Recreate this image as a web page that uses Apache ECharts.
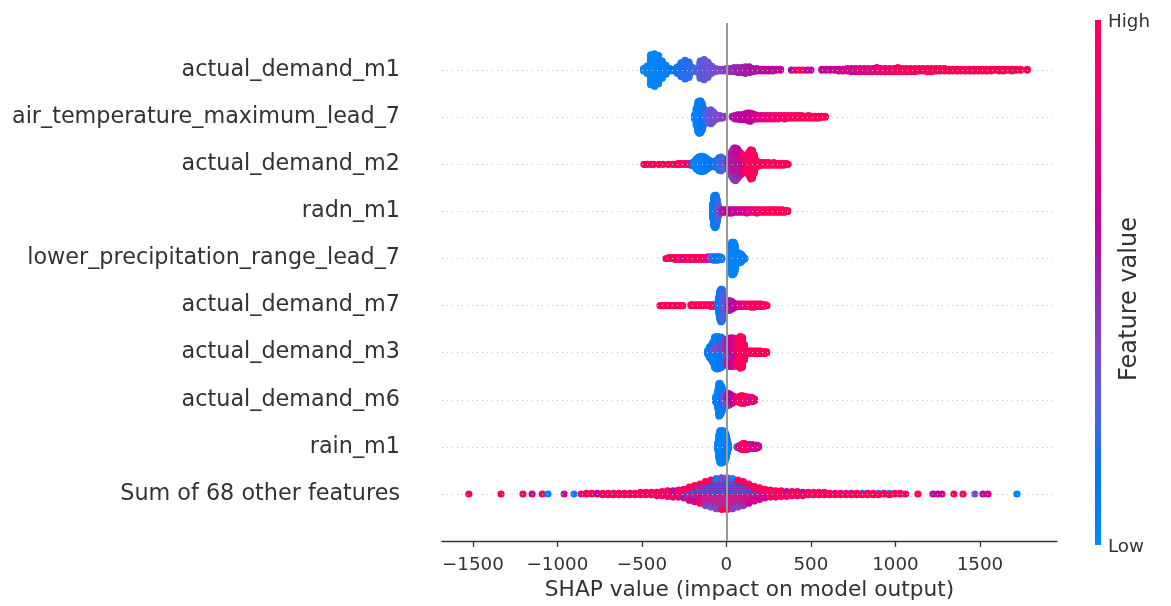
<!DOCTYPE html>
<html><head><meta charset="utf-8">
<script src="https://cdn.jsdelivr.net/npm/echarts@6/dist/echarts.min.js"></script>
<style>html,body{margin:0;padding:0;background:#fff;}#c{width:1171px;height:606px;}</style>
</head><body><div id="c"></div>
<script>
// Feature names, top to bottom
const featureNames = [
  "actual_demand_m1",
  "air_temperature_maximum_lead_7",
  "actual_demand_m2",
  "radn_m1",
  "lower_precipitation_range_lead_7",
  "actual_demand_m7",
  "actual_demand_m3",
  "actual_demand_m6",
  "rain_m1",
  "Sum of 68 other features"
];
const xTicks = [-1500, -1000, -500, 0, 500, 1000, 1500];
const xTitle = "SHAP value (impact on model output)";
const colorbarTitle = "Feature value";
const colorbarHigh = "High";
const colorbarLow = "Low";

// Each entry: [SHAP value, number of samples at that value, normalized feature value (0 low .. 1 high)]
const actual_demand_m1 = [
  [-490,4,0.02],[-470,10,0.03],[-448,38,0.03],[-425,41,0.04],[-402,36,0.05],[-380,22,0.06],[-358,12,0.07],
  [-335,4,0.1],[-312,3,0.12],[-290,9,0.15],[-268,18,0.17],[-245,24,0.18],[-222,20,0.2],[-200,6,0.22],
  [-178,5,0.25],[-155,22,0.28],[-132,26,0.3],[-110,20,0.32],[-88,10,0.34],[-65,5,0.36],[-42,3,0.38],
  [-20,3,0.4],[0,4,0.42],[22,5,0.45],[45,6,0.47],[68,7,0.5],[90,7,0.5],[112,9,0.52],[135,8,0.55],
  [158,5,0.56],[180,4,0.58],[205,3,0.6],[228,3,0.6],[250,3,0.62],[272,3,0.62],[295,2,0.63],[320,2,0.63],
  [385,1,0.62],[410,1,0.8],[432,1,0.9],[455,1,0.95],[478,1,0.7],[500,1,0.65],
  [565,2,0.65],[590,2,0.65],[615,2,0.66],[640,2,0.67],[665,3,0.68],[690,3,0.7],[715,4,0.72],[740,5,0.7],
  [765,5,0.72],[790,5,0.75],[815,5,0.76],[840,5,0.78],[865,5,0.8],[890,6,0.82],[915,5,0.85],[940,5,0.87],
  [965,5,0.88],[990,5,0.9],[1015,6,0.92],[1040,5,0.93],[1065,5,0.93],[1090,5,0.95],[1115,5,0.95],
  [1140,4,0.96],[1165,4,0.95],[1190,5,0.96],[1215,5,0.96],[1240,4,0.97],[1265,4,0.97],[1290,4,0.97],
  [1315,3,0.97],[1340,3,0.97],[1365,3,0.98],[1390,3,0.98],[1415,3,0.98],[1440,3,0.98],[1465,3,0.98],
  [1490,3,0.98],[1515,3,0.98],[1540,3,0.98],[1565,3,0.98],[1590,2,0.98],[1615,3,0.99],[1640,3,0.99],
  [1665,2,0.99],[1690,3,0.99],[1715,2,0.99],[1740,2,0.99],[1780,2,0.99]
];
const air_temperature_maximum_lead_7 = [
  [-188,6,0.05],[-178,22,0.06],[-168,38,0.05],[-160,41,0.06],[-152,40,0.08],[-144,34,0.1],[-136,22,0.12],
  [-128,12,0.18],[-118,10,0.25],[-105,16,0.3],[-92,18,0.32],[-80,14,0.33],[-68,8,0.35],[-55,5,0.36],
  [-40,4,0.38],[-25,3,0.4],[-12,2,0.42],[35,2,0.5],[50,5,0.58],[65,6,0.6],[80,7,0.6],[95,7,0.62],
  [110,8,0.62],[125,10,0.64],[140,11,0.62],[155,8,0.65],[170,6,0.68],[185,5,0.7],[205,5,0.75],
  [225,5,0.78],[245,5,0.8],[265,5,0.82],[285,5,0.85],[305,5,0.86],[325,4,0.88],[345,5,0.9],[365,4,0.9],
  [385,4,0.92],[405,4,0.93],[425,4,0.94],[445,4,0.95],[465,3,0.95],[485,4,0.96],[505,3,0.96],
  [525,3,0.97],[545,3,0.97],[565,2,0.97],[585,2,0.98]
];
const actual_demand_m2 = [
  [-488,1,0.97],[-470,1,0.96],[-450,1,0.97],[-430,1,0.96],[-400,1,0.97],[-375,1,0.95],[-345,1,0.96],
  [-320,1,0.97],[-300,1,0.95],[-285,2,0.96],[-270,2,0.95],[-255,2,0.9],[-240,2,0.85],[-225,2,0.8],
  [-212,3,0.5],[-200,4,0.1],[-188,8,0.08],[-176,14,0.06],[-164,18,0.05],[-152,20,0.06],[-140,20,0.07],
  [-128,18,0.08],[-116,14,0.1],[-104,10,0.1],[-92,8,0.12],[-80,6,0.14],[-68,8,0.16],[-56,10,0.18],
  [-44,16,0.2],[-32,18,0.22],[-20,14,0.25],[-8,8,0.3],
  [4,6,0.3],[4,4,0.5],[14,8,0.35],[14,8,0.55],[24,13,0.38],[24,13,0.58],
  [34,14,0.4],[34,12,0.55],[34,8,0.75],[44,16,0.42],[44,14,0.6],[44,10,0.8],
  [54,16,0.45],[54,15,0.6],[54,10,0.85],[64,14,0.45],[64,14,0.62],[64,10,0.8],
  [74,12,0.5],[74,12,0.65],[74,8,0.85],[84,10,0.5],[84,10,0.65],[84,8,0.9],
  [94,8,0.55],[94,8,0.7],[94,8,0.9],[104,7,0.6],[104,7,0.75],[104,8,0.9],
  [114,6,0.6],[114,12,0.9],[124,4,0.7],[124,10,0.92],
  [134,30,0.94],[144,37,0.95],[154,35,0.96],[164,24,0.95],[176,10,0.95],[190,5,0.94],[205,4,0.95],
  [220,4,0.95],[235,4,0.96],[250,4,0.95],[265,3,0.96],[280,4,0.96],[295,3,0.95],[310,3,0.96],
  [325,3,0.97],[340,3,0.97],[355,2,0.97],[365,1,0.98]
];
const radn_m1 = [
  [-80,20,0.05],[-74,38,0.06],[-68,41,0.08],[-62,40,0.12],[-56,30,0.18],[-50,16,0.22],[-44,8,0.3],
  [-36,5,0.4],[-26,4,0.5],[-14,4,0.55],[0,4,0.6],[15,5,0.62],[30,5,0.63],[45,4,0.64],[60,4,0.65],
  [75,4,0.66],[90,4,0.68],[105,4,0.7],[120,5,0.72],[135,4,0.75],[150,4,0.78],[165,4,0.8],[180,5,0.85],
  [195,4,0.88],[210,4,0.9],[225,4,0.92],[240,4,0.93],[255,4,0.94],[270,4,0.95],[285,4,0.96],
  [300,4,0.96],[315,4,0.97],[330,4,0.97],[345,3,0.98],[362,2,0.98]
];
const lower_precipitation_range_lead_7 = [
  [-358,1,0.96],[-340,2,0.97],[-322,2,0.95],[-305,3,0.96],[-288,3,0.97],[-270,3,0.95],[-252,3,0.7],
  [-236,3,0.96],[-220,3,0.97],[-204,3,0.95],[-188,3,0.96],[-172,3,0.85],[-156,3,0.97],[-140,3,0.96],
  [-124,3,0.8],[-108,4,0.75],[-92,4,0.3],[-78,5,0.2],[-64,5,0.15],[-50,5,0.12],[-38,4,0.1],[-28,3,0.08],
  [20,10,0.05],[26,30,0.04],[32,41,0.04],[38,41,0.05],[44,40,0.05],[50,34,0.05],[56,20,0.06],
  [64,12,0.06],[72,10,0.07],[80,12,0.06],[88,10,0.07],[96,6,0.08],[104,3,0.08],[110,1,0.08]
];
const actual_demand_m7 = [
  [-393,1,0.97],[-378,1,0.96],[-363,1,0.97],[-348,1,0.95],[-333,1,0.96],[-318,1,0.97],[-303,1,0.96],
  [-288,1,0.95],[-273,1,0.96],[-258,1,0.97],[-210,2,0.96],[-195,2,0.97],[-180,2,0.95],[-165,2,0.96],
  [-150,2,0.97],[-135,2,0.96],[-120,2,0.95],[-105,2,0.96],[-90,3,0.95],[-76,3,0.94],[-62,3,0.9],
  [-50,8,0.2],[-44,22,0.15],[-38,36,0.12],[-32,41,0.14],[-26,40,0.18],[-20,34,0.22],[-14,24,0.25],
  [-8,16,0.3],[0,12,0.35],[8,12,0.4],[16,13,0.45],[24,12,0.5],[32,10,0.55],[42,7,0.6],[52,5,0.62],
  [64,4,0.65],[78,4,0.7],[92,4,0.75],[106,4,0.8],[120,4,0.85],[134,4,0.88],[148,5,0.9],[162,5,0.92],
  [176,4,0.9],[190,4,0.93],[204,4,0.95],[218,3,0.96],[232,2,0.97],[240,1,0.97]
];
const actual_demand_m3 = [
  [-110,6,0.08],[-100,10,0.06],[-100,4,0.3],[-90,12,0.08],[-90,6,0.3],[-80,18,0.1],[-80,8,0.32],
  [-70,26,0.06],[-70,12,0.3],[-60,28,0.08],[-60,13,0.35],[-50,28,0.06],[-50,13,0.32],
  [-40,26,0.1],[-40,13,0.35],[-30,24,0.12],[-30,14,0.38],[-20,20,0.15],[-20,14,0.4],
  [-10,16,0.2],[-10,16,0.42],[0,12,0.3],[0,20,0.45],[10,10,0.38],[10,24,0.5],
  [20,14,0.45],[20,22,0.55],[30,12,0.5],[30,24,0.62],[40,12,0.55],[40,24,0.68],
  [50,10,0.6],[50,24,0.72],[60,14,0.65],[60,20,0.78],[70,12,0.8],[70,24,0.9],
  [82,40,0.95],[94,38,0.96],[106,20,0.95],[118,5,0.95],[130,4,0.96],[142,4,0.95],[154,4,0.96],
  [166,4,0.95],[178,4,0.97],[190,4,0.96],[202,4,0.97],[214,3,0.97],[226,3,0.97],[238,2,0.98]
];
const actual_demand_m6 = [
  [-62,8,0.1],[-56,10,0.08],[-50,24,0.06],[-44,41,0.05],[-38,40,0.06],[-32,36,0.08],[-26,30,0.1],
  [-20,20,0.15],[-14,12,0.25],[-6,6,0.3],[-6,4,0.45],[2,8,0.35],[2,6,0.5],[10,8,0.4],[10,8,0.55],
  [18,7,0.45],[18,7,0.6],[26,6,0.5],[26,6,0.62],[34,10,0.6],[42,8,0.62],[50,6,0.65],[58,5,0.7],
  [66,6,0.8],[76,8,0.9],[86,10,0.95],[96,10,0.96],[106,9,0.95],[116,8,0.9],[126,7,0.85],[136,6,0.8],
  [146,6,0.75],[156,5,0.8],[166,3,0.85]
];
const rain_m1 = [
  [-50,10,0.06],[-44,30,0.05],[-38,40,0.05],[-32,41,0.05],[-26,40,0.06],[-20,40,0.05],[-14,38,0.05],
  [-8,36,0.06],[-2,30,0.06],[4,18,0.07],[10,8,0.08],[62,1,0.3],[74,3,0.5],[82,5,0.8],[90,7,0.93],
  [98,8,0.95],[106,8,0.96],[114,7,0.95],[122,7,0.92],[132,6,0.85],[142,6,0.75],[152,6,0.7],
  [162,5,0.72],[172,5,0.7],[182,4,0.65],[190,2,0.7]
];
const sum_of_other_features = [
  [-1524,1,0.97],[-1334,1,0.96],[-1204,1,0.97],[-1150,1,0.7],[-1090,1,0.97],[-1056,1,0.05],
  [-960,1,0.7],[-902,1,0.05],[-860,1,0.96],[-828,2,0.95],[-796,2,0.97],[-764,1,0.95],[-764,1,0.6],
  [-732,3,0.96],[-700,3,0.95],[-668,3,0.9],[-636,3,0.97],[-604,3,0.96],[-572,2,0.95],[-572,1,0.65],
  [-540,3,0.95],[-508,4,0.97],[-476,3,0.9],[-476,1,0.5],[-444,3,0.95],[-444,1,0.4],[-412,4,0.96],[-412,1,0.05],
  [-380,4,0.95],[-380,2,0.6],[-348,5,0.95],[-348,3,0.4],[-316,5,0.9],[-316,4,0.6],
  [-284,5,0.95],[-284,3,0.7],[-284,2,0.1],[-252,5,0.95],[-252,4,0.55],[-252,3,0.3],
  [-220,6,0.95],[-220,5,0.7],[-220,4,0.4],[-220,3,0.05],[-188,7,0.95],[-188,6,0.7],[-188,5,0.45],[-188,4,0.08],
  [-156,8,0.95],[-156,6,0.72],[-156,6,0.5],[-156,6,0.05],[-124,9,0.95],[-124,8,0.7],[-124,8,0.4],[-124,7,0.05],
  [-92,10,0.95],[-92,9,0.65],[-92,9,0.35],[-92,8,0.05],[-60,10,0.95],[-60,10,0.6],[-60,10,0.35],[-60,10,0.05],
  [-28,11,0.95],[-28,10,0.65],[-28,11,0.35],[-28,10,0.05],[4,11,0.95],[4,10,0.6],[4,11,0.38],[4,10,0.05],
  [36,10,0.95],[36,10,0.65],[36,10,0.4],[36,10,0.05],[68,10,0.95],[68,9,0.7],[68,9,0.4],[68,8,0.05],
  [100,9,0.95],[100,8,0.7],[100,8,0.45],[100,7,0.08],[132,8,0.95],[132,7,0.7],[132,6,0.45],[132,5,0.1],
  [164,7,0.95],[164,6,0.72],[164,4,0.5],[164,3,0.1],[196,6,0.95],[196,5,0.7],[196,3,0.4],[196,2,0.1],
  [228,5,0.95],[228,4,0.7],[228,3,0.4],[260,5,0.95],[260,3,0.65],[260,2,0.3],
  [292,5,0.95],[292,3,0.6],[292,1,0.1],[324,5,0.95],[324,3,0.7],[356,4,0.95],[356,3,0.6],
  [388,4,0.95],[388,2,0.5],[420,4,0.95],[420,2,0.7],[452,3,0.95],[452,2,0.6],[484,3,0.95],[484,1,0.4],
  [516,3,0.95],[516,1,0.65],[548,3,0.95],[548,1,0.3],[580,3,0.95],[580,1,0.7],[612,3,0.95],
  [644,2,0.95],[644,1,0.6],[676,3,0.95],[708,2,0.95],[708,1,0.5],[740,2,0.95],[740,1,0.7],[772,3,0.95],
  [804,2,0.95],[804,1,0.1],[836,2,0.95],[836,1,0.6],[868,3,0.95],[900,2,0.95],[900,1,0.2],[932,2,0.95],
  [964,2,0.95],[964,1,0.05],[996,2,0.95],[1028,2,0.95],[1060,1,0.95],
  [1133,1,0.97],[1222,1,0.65],[1250,1,0.6],[1275,1,0.7],[1346,1,0.97],[1400,1,0.95],[1470,1,0.35],
  [1518,1,0.6],[1548,1,0.7],[1719,1,0.05]
];

// top to bottom, same order as featureNames
const rows = [actual_demand_m1, air_temperature_maximum_lead_7, actual_demand_m2, radn_m1,
  lower_precipitation_range_lead_7, actual_demand_m7, actual_demand_m3, actual_demand_m6, rain_m1,
  sum_of_other_features];

const cmap = ['#008bfb','#0078f3','#4b63e3','#7d49cc','#9b24ad','#c2009c','#e00086','#f5006c','#ff0051'];

// beeswarm layout (as in shap): stack samples sharing a value, alternating up/down,
// scaled so the tallest stack fills 0.9 * row_height (0.4) of the row spacing
function swarm(entries, pos) {
  const groups = new Map();
  entries.forEach(e => {
    if (!groups.has(e[0])) groups.set(e[0], []);
    groups.get(e[0]).push(e);
  });
  const pts = [];
  let maxY = 0;
  groups.forEach((list, x) => {
    const maxN = Math.max(...list.map(e => e[1]));
    let layer = 0;
    for (let k = 0; k < maxN; k++) {
      list.forEach(e => {
        if (k < e[1]) {
          const y = Math.ceil(layer / 2) * ((layer % 2) * 2 - 1);
          maxY = Math.max(maxY, y);
          pts.push([x, y, e[2]]);
          layer++;
        }
      });
    }
  });
  const s = 0.9 * (0.4 / (maxY + 1));
  return pts.map(p => [p[0], pos + p[1] * s, p[2]]);
}

const n = featureNames.length;
let dots = [];
rows.forEach((entries, i) => { dots = dots.concat(swarm(entries, n - 1 - i)); });

const rowLines = featureNames.map((_, i) => ({ yAxis: i }));

const chart = echarts.init(document.getElementById('c'), null, { renderer: 'canvas' });
const font = 'DejaVu Sans';
chart.setOption({
  animation: false,
  backgroundColor: '#ffffff',
  textStyle: { fontFamily: font },
  grid: { left: 442, right: 114, top: 23, bottom: 61.5, containLabel: false },
  xAxis: {
    type: 'value', min: -1683, max: 1956,
    name: xTitle, nameLocation: 'middle', nameGap: 37,
    nameTextStyle: { fontSize: 21.7, color: '#333333', fontFamily: font },
    axisLine: { show: true, onZero: false, lineStyle: { color: '#333333', width: 1.3 } },
    axisTick: { show: true, length: 5.8, lineStyle: { color: '#333333', width: 1.3 }, customValues: xTicks },
    axisLabel: { fontSize: 18.3, color: '#333333', margin: 15, fontFamily: font, customValues: xTicks,
      formatter: v => String(v).replace('-', '\u2212') },
    splitLine: { show: false }
  },
  yAxis: {
    type: 'value', min: -1, max: n, interval: 1,
    axisLine: { show: false }, axisTick: { show: false }, splitLine: { show: false },
    axisLabel: { fontSize: 22.3, color: '#333333', margin: 42, fontFamily: font,
      formatter: v => (v >= 0 && v < n) ? featureNames[n - 1 - v] : '' }
  },
  visualMap: { show: false, type: 'continuous', min: 0, max: 1, dimension: 2, seriesIndex: 1,
    inRange: { color: cmap } },
  series: [
    { type: 'scatter', data: [], silent: true, z: 1,
      markLine: { silent: true, symbol: ['none', 'none'], animation: false, label: { show: false },
        data: rowLines.map(d => Object.assign({}, d, { lineStyle: { color: '#cccccc', width: 1, type: [1, 4] } }))
          .concat([{ xAxis: 0, lineStyle: { color: '#999999', width: 2, type: 'solid' } }]) } },
    { type: 'scatter', data: dots, symbolSize: 7.2, z: 3, progressive: 0, large: false,
      itemStyle: { opacity: 1 }, emphasis: { disabled: true } }
  ],
  graphic: [
    { type: 'rect', shape: { x: 1095, y: 20, width: 6, height: 525 },
      style: { fill: new echarts.graphic.LinearGradient(0, 1, 0, 0,
        cmap.map((c, i) => ({ offset: i / (cmap.length - 1), color: c }))) } },
    { type: 'text', x: 1108, y: 22, style: { text: colorbarHigh, font: '18.3px "DejaVu Sans"', fill: '#333333', verticalAlign: 'middle' } },
    { type: 'text', x: 1108, y: 547, style: { text: colorbarLow, font: '18.3px "DejaVu Sans"', fill: '#333333', verticalAlign: 'middle' } },
    { type: 'text', x: 1130, y: 299, rotation: Math.PI / 2,
      style: { text: colorbarTitle, font: '24px "DejaVu Sans"', fill: '#333333', align: 'center', verticalAlign: 'middle' } }
  ]
});
</script>
</body></html>
